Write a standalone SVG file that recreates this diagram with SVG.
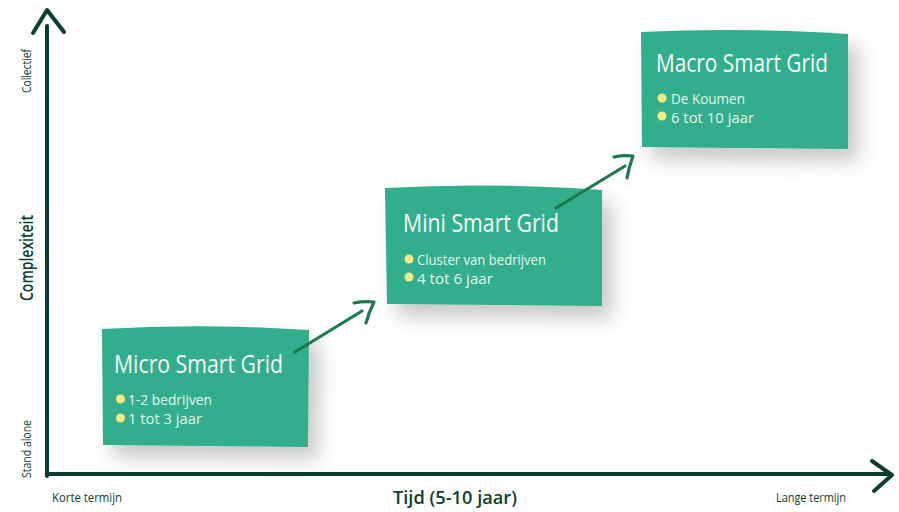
<svg xmlns="http://www.w3.org/2000/svg" width="899" height="512" viewBox="0 0 899 512">
  <style>
    .axis { fill: none; stroke: #0b3f2d; stroke-width: 4; stroke-linecap: round; stroke-linejoin: round; }
    .conn { fill: none; stroke: #1e7a4e; stroke-width: 3.2; stroke-linecap: round; stroke-linejoin: round; }
    .box { fill: #30ae8c; filter: url(#shadow); }
    .title { font-family: "Open Sans", "Noto Sans", sans-serif; font-size: 25px; fill: #f6fcf8; }
    .item { font-family: "Open Sans", "Noto Sans", sans-serif; font-size: 15px; fill: #e4f5ec; }
    .dot { fill: #f6ea80; }
    .lbl { font-family: "Open Sans", "Noto Sans", sans-serif; fill: #0b3f2d; }
  </style>
  <defs>
    <filter id="shadow" x="-20%" y="-20%" width="160%" height="170%">
      <feDropShadow dx="10" dy="12" stdDeviation="10" flood-color="#000" flood-opacity="0.22"/>
    </filter>
  </defs>

  <g id="axes">
    <path class="axis" d="M47,476 L47,26"/>
    <path class="axis" d="M33,33 L47,10 L64,32"/>
    <path class="axis" d="M47,474 L888,474"/>
    <path class="axis" d="M872,461 L892,475 L874,491"/>
  </g>

  <g id="axis-labels">
    <text class="lbl" font-size="12" text-anchor="middle" transform="translate(31,71) rotate(-90)" textLength="44" lengthAdjust="spacingAndGlyphs">Collectief</text>
    <text class="lbl" font-size="18" font-weight="600" text-anchor="middle" transform="translate(33,258) rotate(-90)" textLength="86" lengthAdjust="spacingAndGlyphs">Complexiteit</text>
    <text class="lbl" font-size="12" text-anchor="middle" transform="translate(31,449) rotate(-90)" textLength="58" lengthAdjust="spacingAndGlyphs">Stand alone</text>
    <text class="lbl" font-size="12" x="52" y="502" textLength="70" lengthAdjust="spacingAndGlyphs">Korte termijn</text>
    <text class="lbl" font-size="18" font-weight="600" x="455" y="504" text-anchor="middle" textLength="124" lengthAdjust="spacingAndGlyphs">Tijd (5-10 jaar)</text>
    <text class="lbl" font-size="12" x="776" y="502" textLength="70" lengthAdjust="spacingAndGlyphs">Lange termijn</text>
  </g>

  <g id="micro">
    <path class="box" d="M102,329 Q205,323 309,330 L308,447 L103,445 Z"/>
    <text class="title" x="114" y="373" textLength="169" lengthAdjust="spacingAndGlyphs">Micro Smart Grid</text>
    <circle class="dot" cx="120.5" cy="399" r="4.5"/>
    <text class="item" x="128" y="405" textLength="84" lengthAdjust="spacingAndGlyphs">1-2 bedrijven</text>
    <circle class="dot" cx="120.5" cy="418" r="4.5"/>
    <text class="item" x="128" y="424" textLength="74" lengthAdjust="spacingAndGlyphs">1 tot 3 jaar</text>
  </g>

  <g id="mini">
    <path class="box" d="M385,188 Q493,182 602,190 L602,306 L387,304 Z"/>
    <text class="title" x="403" y="232" textLength="156" lengthAdjust="spacingAndGlyphs">Mini Smart Grid</text>
    <circle class="dot" cx="409" cy="259" r="4.5"/>
    <text class="item" x="417" y="265" textLength="129" lengthAdjust="spacingAndGlyphs">Cluster van bedrijven</text>
    <circle class="dot" cx="409" cy="277" r="4.5"/>
    <text class="item" x="417" y="284" textLength="76" lengthAdjust="spacingAndGlyphs">4 tot 6 jaar</text>
  </g>

  <g id="macro">
    <path class="box" d="M641,32 Q745,27 848,34 L848,149 L642,147 Z"/>
    <text class="title" x="656" y="72" textLength="172" lengthAdjust="spacingAndGlyphs">Macro Smart Grid</text>
    <circle class="dot" cx="662" cy="98" r="4.5"/>
    <text class="item" x="671" y="104" textLength="74" lengthAdjust="spacingAndGlyphs">De Koumen</text>
    <circle class="dot" cx="662" cy="116" r="4.5"/>
    <text class="item" x="671" y="123" textLength="83" lengthAdjust="spacingAndGlyphs">6 tot 10 jaar</text>
  </g>

  <g id="connectors">
    <path class="conn" d="M295,352 L362,311"/>
    <path class="conn" d="M354,303 Q364,301 374,302 Q369,312 366,323"/>
    <path class="conn" d="M556,208 L625,166"/>
    <path class="conn" d="M614,157 Q623,155 633,156 Q629,167 627,178"/>
  </g>
</svg>
